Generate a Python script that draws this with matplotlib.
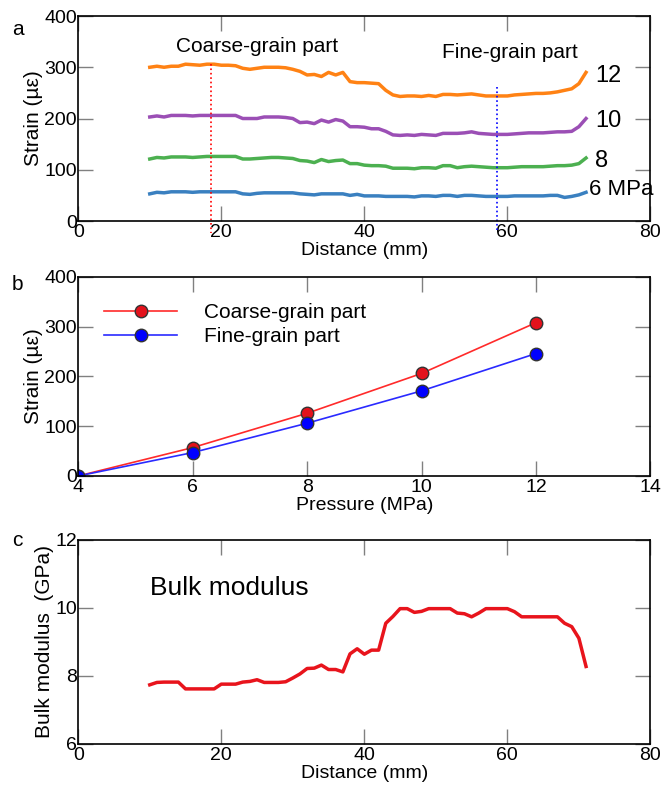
"""
Strain profiles, strain vs pressure and bulk modulus along the sample.
Saves out.png (663x793).
"""
import matplotlib.pyplot as plt

plt.rcParams["font.family"] = ["Liberation Sans", "DejaVu Sans"]

# ── Data ────────────────────────────────────────────────────────────────────
distance = list(range(10, 72))

strain_12 = [300, 302, 300, 302, 302, 306, 305, 304, 306, 306, 304, 304, 303, 298, 296,
             298, 300, 300, 300, 299, 296, 292, 285, 286, 282, 290, 285, 290, 272, 270,
             270, 269, 268, 255, 246, 243, 244, 244, 243, 245, 243, 247, 247, 246, 247,
             248, 246, 244, 244, 244, 244, 246, 247, 248, 249, 249, 250, 252, 255, 258,
             268, 290]
strain_10 = [203, 205, 203, 206, 206, 206, 205, 206, 206, 206, 206, 206, 206, 200, 200,
             200, 203, 203, 203, 202, 200, 192, 193, 190, 197, 193, 198, 195, 184, 184,
             183, 180, 180, 175, 168, 167, 168, 167, 169, 168, 167, 171, 171, 171, 172,
             174, 171, 170, 169, 169, 169, 170, 171, 172, 172, 172, 173, 174, 174, 175,
             184, 200]
strain_8 = [121, 124, 123, 125, 125, 125, 124, 125, 126, 126, 126, 126, 126, 121, 121,
            122, 123, 124, 124, 123, 122, 118, 117, 114, 120, 116, 118, 119, 112, 112,
            109, 108, 108, 107, 103, 103, 103, 102, 104, 104, 103, 108, 108, 104, 106,
            107, 106, 105, 104, 104, 104, 105, 106, 106, 106, 106, 107, 108, 108, 109,
            112, 123]
strain_6 = [53, 56, 55, 57, 57, 57, 56, 57, 57, 57, 57, 57, 57, 53, 52,
            54, 55, 55, 55, 55, 55, 53, 52, 51, 53, 53, 53, 53, 50, 52,
            49, 49, 49, 48, 48, 48, 48, 47, 49, 49, 48, 50, 50, 48, 50,
            50, 49, 48, 48, 48, 48, 49, 49, 49, 49, 49, 50, 50, 46, 48,
            51, 56]

pressure = [4, 6, 8, 10, 12]
coarse_strain = [0, 57, 126, 206, 308]
fine_strain = [0, 47, 106, 171, 246]

bulk_modulus = [7.74, 7.81, 7.82, 7.82, 7.82, 7.62, 7.62, 7.62, 7.62, 7.62, 7.76, 7.76,
                7.76, 7.82, 7.84, 7.89, 7.81, 7.81, 7.81, 7.83, 7.94, 8.06, 8.22, 8.23,
                8.32, 8.19, 8.19, 8.12, 8.65, 8.80, 8.64, 8.76, 8.76, 9.55, 9.75, 9.98,
                9.98, 9.87, 9.90, 9.98, 9.98, 9.98, 9.98, 9.85, 9.83, 9.74, 9.85, 9.98,
                9.98, 9.98, 9.98, 9.89, 9.74, 9.74, 9.74, 9.74, 9.74, 9.74, 9.55, 9.45,
                9.11, 8.28]

curves = [(strain_12, "12", "#ff8214"), (strain_10, "10", "#9b4fb5"),
          (strain_8, "8", "#4cb050"), (strain_6, "6 MPa", "#3a80c0")]
curve_label_y = [282, 195, 118, 61]


def style_axes(ax):
    for sp in ax.spines.values():
        sp.set_linewidth(1.2)
        sp.set_color("black")
    ax.tick_params(direction="in", length=11, width=1, color="#808080",
                   top=True, right=True, labelsize=14, pad=2)
    ax.tick_params(axis="y", pad=1)


fig = plt.figure(figsize=(6.63, 7.93), dpi=100)

# ── (a) strain profiles ────────────────────────────────────────────────────
ax1 = fig.add_axes([0.118, 0.7213, 0.863, 0.2585])
for (vals, lab, col), ly in zip(curves, curve_label_y):
    ax1.plot(distance, vals, color=col, linewidth=2.5)
    if lab.endswith("MPa"):
        ax1.text(71.4, ly, lab, fontsize=16, va="center", ha="left")
    else:
        ax1.text(72.3, ly, lab, fontsize=17, va="center", ha="left")
ax1.plot([18.5, 18.5], [307, -24], color="red", linestyle=":", linewidth=1.2, clip_on=False)
ax1.plot([58.5, 58.5], [262, -20], color="blue", linestyle=":", linewidth=1.2, clip_on=False)
ax1.text(25, 340, "Coarse-grain part", fontsize=15, ha="center", va="center")
ax1.text(60.4, 329, "Fine-grain part", fontsize=15, ha="center", va="center")
ax1.set_xlim(0, 80)
ax1.set_ylim(0, 400)
ax1.set_xticks([0, 20, 40, 60, 80])
ax1.set_yticks([0, 100, 200, 300, 400])
ax1.set_xlabel("Distance (mm)", fontsize=14, labelpad=1)
ax1.set_ylabel("Strain (\u00b5\u03b5)", fontsize=15, labelpad=1)
style_axes(ax1)
fig.text(0.018, 0.975, "a", fontsize=15, va="top")

# ── (b) strain vs pressure ─────────────────────────────────────────────────
ax2 = fig.add_axes([0.118, 0.3998, 0.863, 0.251])
ax2.plot(pressure, coarse_strain, color="#ff2a2a", linewidth=1.2, marker="o",
         markersize=9, markerfacecolor="#e3121c", markeredgecolor="#333333",
         label="Coarse-grain part")
ax2.plot(pressure, fine_strain, color="#2a2aff", linewidth=1.2, marker="o",
         markersize=9, markerfacecolor="#0000ff", markeredgecolor="#333333",
         label="Fine-grain part")
ax2.set_xlim(4, 14)
ax2.set_ylim(0, 400)
ax2.set_xticks([4, 6, 8, 10, 12, 14])
ax2.set_yticks([0, 100, 200, 300, 400])
ax2.set_xlabel("Pressure (MPa)", fontsize=14, labelpad=1)
ax2.set_ylabel("Strain (\u00b5\u03b5)", fontsize=15, labelpad=1)
ax2.legend(loc="upper left", bbox_to_anchor=(0.031, 0.91), frameon=False, fontsize=15,
           handlelength=3.5, handletextpad=1.3, labelspacing=0.25, borderaxespad=0)
style_axes(ax2)
fig.text(0.018, 0.653, "b", fontsize=15, va="top")

# ── (c) bulk modulus ───────────────────────────────────────────────────────
ax3 = fig.add_axes([0.118, 0.0618, 0.863, 0.2573])
ax3.plot(distance, bulk_modulus, color="#e8141c", linewidth=2.5)
ax3.text(10.1, 10.6, "Bulk modulus", fontsize=19, ha="left", va="center")
ax3.set_xlim(0, 80)
ax3.set_ylim(6, 12)
ax3.set_xticks([0, 20, 40, 60, 80])
ax3.set_yticks([6, 8, 10, 12])
ax3.set_xlabel("Distance (mm)", fontsize=14, labelpad=1)
ax3.set_ylabel("Bulk modulus  (GPa)", fontsize=15, labelpad=1)
style_axes(ax3)
fig.text(0.018, 0.33, "c", fontsize=15, va="top")

fig.savefig("out.png", dpi=100)
